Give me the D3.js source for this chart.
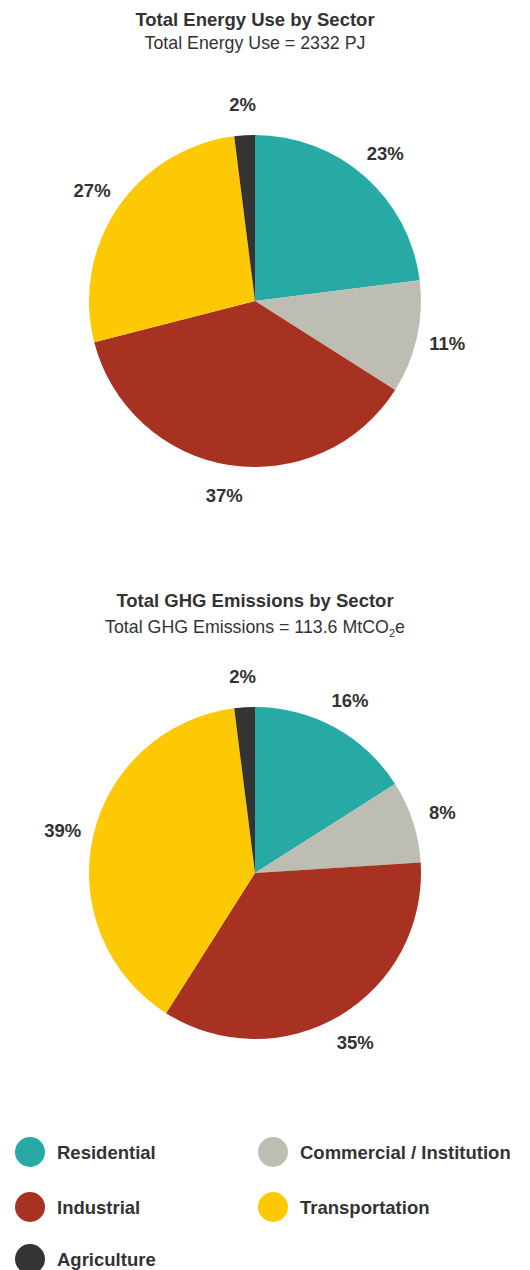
<!DOCTYPE html>
<html>
<head>
<meta charset="utf-8">
<script src="https://cdn.jsdelivr.net/npm/d3@7"></script>
<style>
  html, body { margin: 0; padding: 0; background: #fff; }
  svg { display: block; font-family: "Liberation Sans", Arial, Helvetica, sans-serif; }
</style>
</head>
<body>
<svg id="chart" width="530" height="1270"></svg>
<script>
// Sector names and colours (shared by both pies and the legend)
const sectors = ["Residential", "Commercial / Institution", "Industrial", "Transportation", "Agriculture"];
const sectorColors = ["#27aaa6", "#bebdb3", "#a83221", "#fdc905", "#353334"];

// Shares in percent, in sector order
const energyShares = [23, 11, 37, 27, 2];
const ghgShares = [16, 8, 35, 39, 2];

// Titles
const energyTitle = "Total Energy Use by Sector";
const energySubtitle = "Total Energy Use = 2332 PJ";
const ghgTitle = "Total GHG Emissions by Sector";

const svg = d3.select("#chart");
const textColor = "#333333";
const boldSize = 18.5;
const subSize = 17.8;

const color = d3.scaleOrdinal().domain(sectors).range(sectorColors);
const radius = 166;
const labelRadius = 197;

const pie = d3.pie().sort(null).value(d => d.value);
const arc = d3.arc().innerRadius(0).outerRadius(radius);
const labelArc = d3.arc().innerRadius(labelRadius).outerRadius(labelRadius);

function drawPie(shares, cx, cy) {
  const data = sectors.map((s, i) => ({ sector: s, value: shares[i] }));
  const g = svg.append("g").attr("transform", `translate(${cx},${cy})`);
  const arcs = pie(data);
  g.selectAll("path.slice")
    .data(arcs)
    .join("path")
    .attr("class", "slice")
    .attr("d", arc)
    .attr("fill", d => color(d.data.sector));
  g.selectAll("text.pct")
    .data(arcs)
    .join("text")
    .attr("class", "pct")
    .attr("transform", d => `translate(${labelArc.centroid(d)})`)
    .attr("text-anchor", "middle")
    .attr("dominant-baseline", "central")
    .attr("font-weight", "bold")
    .attr("font-size", boldSize)
    .attr("fill", textColor)
    .text(d => d.data.value + "%");
}

function drawTitle(title, y) {
  svg.append("text")
    .attr("x", 255).attr("y", y)
    .attr("text-anchor", "middle")
    .attr("font-weight", "bold")
    .attr("font-size", boldSize)
    .attr("fill", textColor)
    .text(title);
}

// Energy use
drawTitle(energyTitle, 26);
svg.append("text")
  .attr("x", 255).attr("y", 48.5)
  .attr("text-anchor", "middle")
  .attr("font-size", subSize)
  .attr("fill", textColor)
  .text(energySubtitle);
drawPie(energyShares, 255, 301);

// GHG emissions
drawTitle(ghgTitle, 607);
const sub = svg.append("text")
  .attr("x", 255).attr("y", 633)
  .attr("text-anchor", "middle")
  .attr("font-size", subSize)
  .attr("fill", textColor);
sub.append("tspan").text("Total GHG Emissions = 113.6 MtCO");
sub.append("tspan").attr("font-size", 11).attr("dy", 4).text("2");
sub.append("tspan").attr("dy", -4).text("e");
drawPie(ghgShares, 255, 873);

// Legend: two columns, filled circle markers
const legendCols = [30, 273];
const legendRows = [1152, 1207, 1259];
const legend = svg.append("g");
const items = legend.selectAll("g.item")
  .data(sectors)
  .join("g")
  .attr("class", "item")
  .attr("transform", (d, i) => `translate(${legendCols[i % 2]},${legendRows[Math.floor(i / 2)]})`);
items.append("circle")
  .attr("r", 15)
  .attr("fill", d => color(d));
items.append("text")
  .attr("x", 27)
  .attr("dominant-baseline", "central")
  .attr("font-weight", "bold")
  .attr("font-size", boldSize)
  .attr("fill", textColor)
  .text(d => d);
</script>
</body>
</html>
